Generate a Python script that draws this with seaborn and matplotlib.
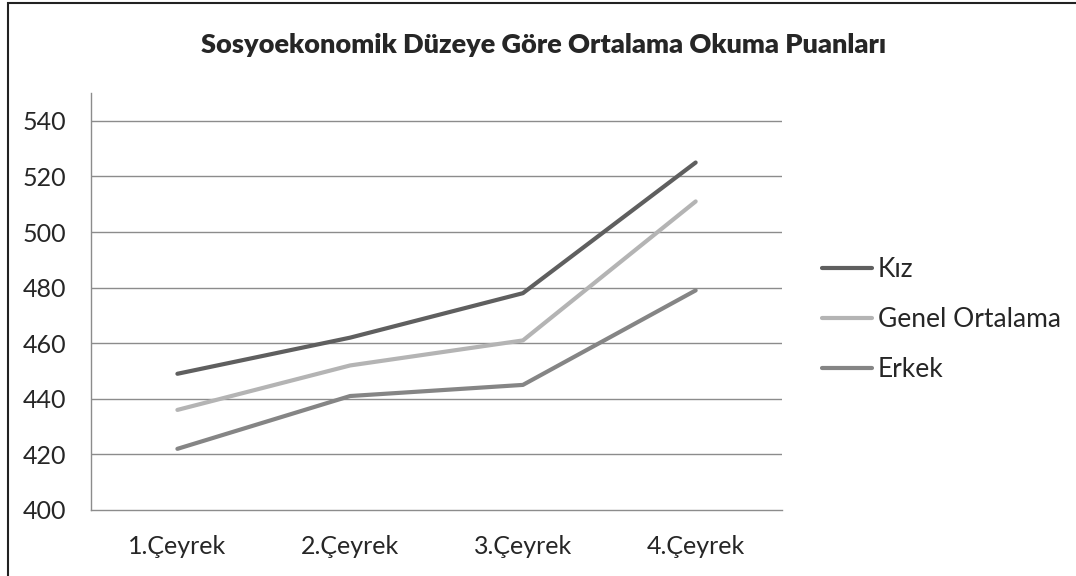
import pandas as pd
import matplotlib.pyplot as plt
import seaborn as sns
from matplotlib.patches import Rectangle

# Data
categories = ["1.Çeyrek", "2.Çeyrek", "3.Çeyrek", "4.Çeyrek"]
kiz = [449, 462, 478, 525]
genel = [436, 452, 461, 511]
erkek = [422, 441, 445, 479]
series_names = ["Kız", "Genel Ortalama", "Erkek"]
colors = ["#5f5f5f", "#b4b4b4", "#858585"]

rows = []
for name, vals in zip(series_names, [kiz, genel, erkek]):
    for i, v in enumerate(vals):
        rows.append({"pos": i, "Kategori": categories[i], "Puan": v, "Seri": name})
df = pd.DataFrame(rows)

sns.set_style("white")
plt.rcParams['font.family'] = ['Lato', 'DejaVu Sans']

fig = plt.figure(figsize=(10.76, 5.76), dpi=100)
ax = fig.add_axes([0.0846, 0.1146, 0.6422, 0.7239])

sns.lineplot(data=df, x="pos", y="Puan", hue="Seri", hue_order=series_names,
             palette=colors, linewidth=3, ax=ax, legend=False)

ax.set_xlim(-0.5, 3.5)
ax.set_ylim(400, 550)
ax.set_yticks(range(400, 541, 20))
ax.set_xticks([-0.5, 0.5, 1.5, 2.5, 3.5])
ax.set_xticklabels([])
ax.set_xticks(range(4), minor=True)
ax.set_xticklabels(categories, minor=True)
ax.tick_params(axis="x", which="major", length=6, color="#888888", direction="out")
ax.tick_params(axis="x", which="minor", length=0, labelsize=18, pad=18)
ax.tick_params(axis="y", length=6, color="#888888", labelsize=18, pad=12,
               direction="out")
ax.set_xlabel("")
ax.set_ylabel("")

for y in range(420, 541, 20):
    ax.axhline(y, color="#8c8c8c", linewidth=1, zorder=0)

for side in ["top", "right"]:
    ax.spines[side].set_visible(False)
for side in ["left", "bottom"]:
    ax.spines[side].set_color("#8c8c8c")
    ax.spines[side].set_linewidth(1)

handles = [plt.Line2D([0], [0], color=c, linewidth=3) for c in colors]
ax.legend(handles, series_names, loc="center left", bbox_to_anchor=(1.058, 0.456),
          frameon=False, fontsize=19, handlelength=1.9, handletextpad=0.2,
          labelspacing=0.95, borderpad=0, borderaxespad=0)

fig.text(0.505, 0.922, "Sosyoekonomik Düzeye Göre Ortalama Okuma Puanları",
         ha="center", va="center", fontsize=19.5, fontweight="heavy")

fig.patches.append(Rectangle((8 / 1076, -0.1), 1.2, (576 - 3) / 576 + 0.1,
                             transform=fig.transFigure, fill=False,
                             edgecolor="#222222", linewidth=1.5))

fig.savefig("out.png", dpi=100)
plt.close(fig)
